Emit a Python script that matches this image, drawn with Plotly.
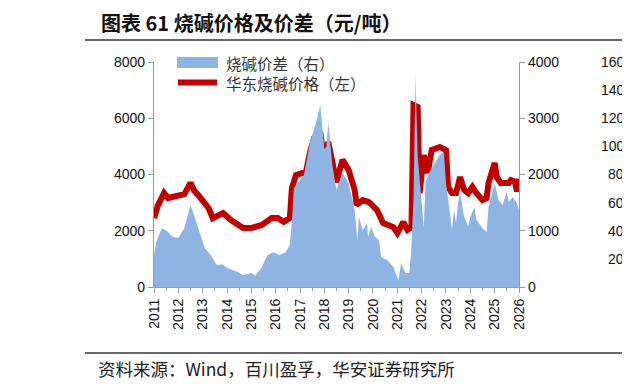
import plotly.graph_objects as go

# ---------------- data ----------------
price_dates = ["2011-01", "2011-03", "2011-06", "2011-08", "2011-10", "2012-01", "2012-04", "2012-07",
               "2012-09", "2012-11", "2013-02", "2013-04", "2013-06", "2013-09", "2013-11", "2014-03",
               "2014-06", "2014-09", "2015-01", "2015-03", "2015-06", "2015-09", "2015-11", "2016-02",
               "2016-05", "2016-08", "2016-09", "2016-11", "2017-02", "2017-04", "2017-06", "2017-08",
               "2017-11", "2018-01", "2018-03", "2018-05", "2018-07", "2018-10", "2019-01", "2019-04",
               "2019-05", "2019-08", "2019-11", "2020-03", "2020-06", "2020-11", "2021-01", "2021-04",
               "2021-06", "2021-08", "2021-09", "2021-11", "2021-12", "2022-02", "2022-04", "2022-06",
               "2022-10", "2023-01", "2023-02", "2023-04", "2023-06", "2023-08", "2023-10", "2023-12",
               "2024-02", "2024-04", "2024-07", "2024-09", "2024-10", "2025-01", "2025-02", "2025-04",
               "2025-08", "2025-09", "2025-11", "2025-12", "2026-01"]
price_values = [2450, 2900, 3340, 3160, 3200, 3250, 3300, 3700,
                3400, 3250, 3020, 2800, 2450, 2550, 2630, 2380,
                2250, 2100, 2100, 2150, 2200, 2350, 2450, 2450,
                2310, 2450, 3520, 3980, 4050, 4090, 4800, 5300,
                5500, 4440, 5160, 4440, 3730, 4520, 4160, 3450,
                2915, 3090, 3020, 2740, 2275, 2130, 1920, 2310,
                2030, 2130, 6470, 6400, 3340, 4690, 4050, 4870,
                4980, 4870, 3560, 3340, 3340, 3910, 3450, 3340,
                3560, 3340, 3090, 3160, 3700, 4410, 3910, 3700,
                3700, 3800, 3750, 3400, 3850]

spread_dates = ["2011-01", "2011-02", "2011-05", "2011-08", "2011-10", "2012-01", "2012-04", "2012-06",
                "2012-07", "2012-09", "2012-12", "2013-02", "2013-05", "2013-08", "2013-11", "2014-01",
                "2014-06", "2014-09", "2015-01", "2015-03", "2015-06", "2015-09", "2015-12", "2016-03",
                "2016-06", "2016-08", "2016-09", "2016-10", "2017-03", "2017-06", "2017-09", "2017-11",
                "2018-01", "2018-02", "2018-03", "2018-05", "2018-07", "2018-10", "2019-01", "2019-04",
                "2019-05-10", "2019-06", "2019-08", "2019-10", "2019-10-20", "2019-12", "2020-02", "2020-04",
                "2020-05", "2020-08", "2020-11", "2021-01-15", "2021-03", "2021-05", "2021-07", "2021-08",
                "2021-09", "2021-10", "2021-11", "2022-01", "2022-02", "2022-03", "2022-05", "2022-07",
                "2022-10", "2022-12", "2023-01", "2023-03", "2023-04", "2023-05", "2023-06", "2023-07",
                "2023-08", "2023-10", "2023-12", "2024-01", "2024-03", "2024-04", "2024-07", "2024-09",
                "2024-10", "2025-01", "2025-03", "2025-05", "2025-07", "2025-08", "2025-10", "2025-12",
                "2026-01"]
spread_values = [550, 800, 1050, 980, 900, 870, 1050, 1300,
                 1460, 1250, 925, 690, 570, 390, 400, 340,
                 270, 210, 250, 200, 340, 570, 620, 570,
                 620, 750, 1160, 1760, 1990, 2580, 2930, 3240,
                 2450, 2500, 2930, 2170, 1725, 2030, 1850, 1370,
                 835, 1245, 1010, 1140, 890, 1070, 890, 835,
                 535, 480, 355, 125, 425, 250, 250, 710,
                 1600, 3770, 2350, 1400, 1050, 1870, 2050, 2170,
                 2350, 2400, 1850, 1315, 1010, 1370, 1140, 1490,
                 1670, 1245, 1070, 1245, 1420, 1190, 1050, 980,
                 1420, 1850, 1545, 1460, 1690, 1510, 1600, 1490,
                 1370]

year_labels = [str(y) for y in range(2011, 2027)]
year_ticks = [f"{y}-01-01" for y in range(2011, 2027)]
left_ticks = [0, 2000, 4000, 6000, 8000]
right_ticks = [0, 1000, 2000, 3000, 4000]
neighbor_ticks = ["1600", "1400", "1200", "1000", "800", "600", "400", "200"]

title_text = "<b>图表 61 烧碱价格及价差（元/吨）</b>"
source_text = "资料来源：Wind，百川盈孚，华安证券研究所"
spread_name = "烧碱价差（右）"
price_name = "华东烧碱价格（左）"

# ---------------- layout helpers ----------------
# the page body has an 8px margin, so figure pixel = screen pixel - 8
OFF = 8
W, H = 622, 384
def px(x):
    return (x - OFF) / W
def py(y):
    return 1 - (y - OFF) / H

BLUE = "#8DB4E2"
RED = "#C00000"
AXIS = "#999999"
TXT = "#111111"
FONT = "Liberation Sans, Arial, sans-serif"
CJK = "Noto Sans CJK SC"

fig = go.Figure()
fig.add_trace(go.Scatter(x=spread_dates, y=spread_values, yaxis="y2", mode="lines",
                         line=dict(width=0, color=BLUE), fill="tozeroy", fillcolor=BLUE,
                         name=spread_name, showlegend=False))
fig.add_trace(go.Scatter(x=price_dates, y=price_values, yaxis="y", mode="lines",
                         line=dict(width=6, color=RED), name=price_name, showlegend=False))

x0, x1 = 154, 519
y0, y1 = 62, 287

fig.update_layout(
    width=W, height=H,
    margin=dict(l=0, r=0, t=0, b=0, autoexpand=False),
    paper_bgcolor="white", plot_bgcolor="white",
    xaxis=dict(domain=[px(x0), px(x1)], type="date",
               range=["2011-01-01", "2026-01-01"],
               tickmode="array", tickvals=year_ticks, ticktext=year_labels,
               tickangle=-90, ticks="outside", ticklen=5, tickcolor=AXIS,
               showline=True, linecolor=AXIS, linewidth=1.3, showgrid=False, zeroline=False,
               tickfont=dict(family=FONT, size=14, color=TXT), automargin=False,
               minor=dict(ticks="outside", ticklen=3, tickcolor=AXIS, dtick="M6",
                          tick0="2011-01-01", showgrid=False)),
    yaxis=dict(domain=[py(y1), py(y0)], range=[0, 8000], tickvals=left_ticks,
               ticks="outside", ticklen=5, tickcolor=AXIS, automargin=False,
               showline=True, linecolor=AXIS, linewidth=1.3, showgrid=False, zeroline=False,
               tickfont=dict(family=FONT, size=14, color=TXT)),
    yaxis2=dict(overlaying="y", side="right", range=[0, 4000], tickvals=right_ticks,
                ticks="outside", ticklen=5, tickcolor=AXIS, automargin=False,
                showline=True, linecolor=AXIS, linewidth=1.3, showgrid=False, zeroline=False,
                tickfont=dict(family=FONT, size=14, color=TXT)),
    showlegend=False,
)

shapes = [
    dict(type="line", xref="paper", yref="paper", x0=px(85), x1=px(640), y0=py(40), y1=py(40),
         line=dict(color="#333333", width=1.5)),
    dict(type="line", xref="paper", yref="paper", x0=px(85), x1=px(640), y0=py(353), y1=py(353),
         line=dict(color="#333333", width=1.5)),
    dict(type="rect", xref="paper", yref="paper", x0=px(177), x1=px(218), y0=py(68), y1=py(57),
         fillcolor=BLUE, line=dict(width=0)),
    dict(type="line", xref="paper", yref="paper", x0=px(178), x1=px(217), y0=py(82.5), y1=py(82.5),
         line=dict(color=RED, width=6)),
]
fig.update_layout(shapes=shapes)

ann = [
    dict(text=title_text, x=px(99), y=py(22), xanchor="left", yanchor="middle",
         font=dict(family=CJK, size=20, color="#111111")),
    dict(text=source_text, x=px(96), y=py(368), xanchor="left", yanchor="middle",
         font=dict(family=CJK, size=17.5, color="#222222")),
    dict(text=spread_name, x=px(224), y=py(63), xanchor="left", yanchor="middle",
         font=dict(family=CJK, size=15.5, color="#333333")),
    dict(text=price_name, x=px(224), y=py(83), xanchor="left", yanchor="middle",
         font=dict(family=CJK, size=15.5, color="#333333")),
    dict(text="<b>图</b>", x=px(626), y=py(22), xanchor="left", yanchor="middle",
         font=dict(family=CJK, size=20, color="#111111")),
    dict(text="注", x=px(626), y=py(368), xanchor="left", yanchor="middle",
         font=dict(family=CJK, size=17.5, color="#222222")),
]
for i, t in enumerate(neighbor_ticks):
    ann.append(dict(text=t, x=px(634), y=py(62 + i * 28.1), xanchor="right", yanchor="middle",
                    font=dict(family=FONT, size=14, color=TXT)))
for a in ann:
    a.update(xref="paper", yref="paper", showarrow=False)
fig.update_layout(annotations=ann)

fig.write_html("out.html")
